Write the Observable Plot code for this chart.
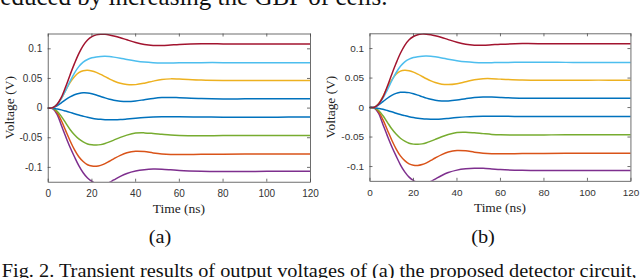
<!DOCTYPE html>
<html><head><meta charset="utf-8">
<script src="https://cdn.jsdelivr.net/npm/d3@7"></script>
<script src="https://cdn.jsdelivr.net/npm/@observablehq/plot@0.6"></script>
<style>
body{margin:0;background:#fff}
#root{position:relative;width:640px;height:278px;overflow:hidden;background:#fff}
.panel{position:absolute;top:0}
svg.overlay{position:absolute;left:0;top:0}
</style>
</head><body><div id="root"></div>
<script>
// ---- data ----
const times = [0,2,4,6,8,10,12,14,16,18,20,22,24,26,28,30,33,36,40,44,48,52,56,60,70,80,90,100,110,120];
const xTicks = [0,20,40,60,80,100,120];
const yTicks = [-0.1,-0.05,0,0.05,0.1];
const yTickLabels = ["-0.1","-0.05","0","0.05","0.1"];

const redA    = [0,0.0005,0.006,0.018,0.036,0.056,0.075,0.092,0.1055,0.1150,0.1205,0.1235,0.1245,0.1244,0.1234,0.1218,0.1188,0.1152,0.1107,0.1073,0.1057,0.1056,0.1064,0.1073,0.1084,0.1083,0.1080,0.1080,0.1080,0.1080];
const cyanA   = [0,0.0005,0.006,0.016,0.030,0.045,0.059,0.070,0.0775,0.0820,0.0848,0.0863,0.0871,0.0873,0.0869,0.0860,0.0842,0.0820,0.0795,0.0776,0.0765,0.0760,0.0761,0.0764,0.0767,0.0767,0.0766,0.0765,0.0765,0.0765];
const yellowA = [0,0.0005,0.006,0.016,0.030,0.043,0.053,0.0597,0.0630,0.0637,0.0626,0.0602,0.0568,0.0530,0.0492,0.0458,0.0418,0.0397,0.0396,0.0420,0.0455,0.0483,0.0493,0.0489,0.0472,0.0465,0.0465,0.0466,0.0466,0.0466];
const blueUpA = [0,0.0004,0.004,0.009,0.0145,0.019,0.0225,0.0248,0.0258,0.0256,0.0243,0.0222,0.0197,0.0172,0.0150,0.0132,0.0117,0.0112,0.0121,0.0142,0.0163,0.0177,0.0180,0.0175,0.0161,0.0155,0.0156,0.0157,0.0157,0.0157];
const blueLoA = [0,-0.0002,-0.0015,-0.003,-0.005,-0.0072,-0.0096,-0.0118,-0.0137,-0.0155,-0.0170,-0.0182,-0.0190,-0.0195,-0.0197,-0.0197,-0.0193,-0.0184,-0.0170,-0.0158,-0.0150,-0.0146,-0.0146,-0.0148,-0.0151,-0.0153,-0.0153,-0.0153,-0.0152,-0.0152];
const greenA  = [0,-0.0005,-0.005,-0.014,-0.025,-0.036,-0.045,-0.052,-0.057,-0.0605,-0.0620,-0.0624,-0.0616,-0.0597,-0.0570,-0.0540,-0.0494,-0.0456,-0.0422,-0.0418,-0.0428,-0.0442,-0.0455,-0.0462,-0.0466,-0.0464,-0.0462,-0.0462,-0.0462,-0.0462];
const orangeA = [0,-0.0005,-0.007,-0.021,-0.038,-0.055,-0.070,-0.082,-0.090,-0.0955,-0.0978,-0.0982,-0.0966,-0.0937,-0.0897,-0.0855,-0.0797,-0.0754,-0.0728,-0.0734,-0.0756,-0.0773,-0.0782,-0.0784,-0.0780,-0.0777,-0.0776,-0.0776,-0.0776,-0.0776];
const purpleA = [0,-0.001,-0.010,-0.029,-0.048,-0.066,-0.082,-0.097,-0.109,-0.118,-0.1238,-0.1275,-0.1290,-0.1283,-0.1252,-0.1212,-0.1152,-0.1102,-0.1061,-0.1039,-0.1029,-0.1031,-0.1040,-0.1051,-0.1064,-0.1068,-0.1068,-0.1067,-0.1067,-0.1067];

const yellowB = [0,0.0005,0.007,0.019,0.034,0.047,0.0565,0.0617,0.0632,0.0624,0.0600,0.0566,0.0527,0.0488,0.0453,0.0424,0.0396,0.0389,0.0404,0.0438,0.0472,0.0489,0.0490,0.0482,0.0467,0.0463,0.0464,0.0465,0.0465,0.0465];
const blueUpB = [0,0.0005,0.0045,0.010,0.0158,0.0205,0.0240,0.0258,0.0261,0.0253,0.0235,0.0211,0.0185,0.0160,0.0140,0.0125,0.0113,0.0113,0.0127,0.0150,0.0169,0.0179,0.0179,0.0172,0.0159,0.0156,0.0157,0.0158,0.0158,0.0158];

const seriesKeys   = ["purple","orange","green","blueLo","blueUp","yellow","cyan","red"];
const seriesColors = ["#7E2F8E","#D95319","#77AC30","#0072BD","#0072BD","#EDB120","#4DBEEE","#A2142F"];
const panelA = [purpleA, orangeA, greenA, blueLoA, blueUpA, yellowA, cyanA, redA];
const panelB = [purpleA, orangeA, greenA, blueLoA, blueUpB, yellowB, cyanA, redA];

const texts = {
  top: "reduced by increasing the GBP of cells.",
  caption: "Fig. 2.  Transient results of output voltages of (a) the proposed detector circuit,",
  xLabel: "Time (ns)",
  yLabel: "Voltage (V)",
  subA: "(a)",
  subB: "(b)"
};

// ---- layout ----
const W = 320, H = 220, mL = 47.7, mR = 10, mT = 33.5, mB = 38.3;
const fw = W - mL - mR, fh = H - mT - mB;
const serif = "'Liberation Serif','Times New Roman',serif";
const sans = "'Liberation Sans',Arial,sans-serif";
const axisColor = "#4a4a4a";

function panel(vals) {
  const data = vals.flatMap((arr, si) => times.map((t, i) => ({t, v: arr[i], k: seriesKeys[si] + si})));
  const svg = Plot.plot({
    width: W, height: H, marginLeft: mL, marginRight: mR, marginTop: mT, marginBottom: mB,
    style: {fontFamily: sans, fontSize: "10px", color: "#333", background: "transparent", overflow: "visible"},
    x: {domain: [0, 120]},
    y: {domain: [-0.125, 0.125]},
    color: {domain: seriesKeys.map((k, i) => k + i), range: seriesColors},
    marks: [
      Plot.lineY(data, {x: "t", y: "v", z: "k", stroke: "k", strokeWidth: 1.5, curve: "catmull-rom", clip: true}),
      Plot.frame({stroke: axisColor, strokeWidth: 0.8}),
      Plot.tickX(xTicks, {x: d => d, insetTop: fh - 3, stroke: axisColor, strokeWidth: 0.8}),
      Plot.tickX(xTicks, {x: d => d, insetBottom: fh - 3, stroke: axisColor, strokeWidth: 0.8}),
      Plot.tickY(yTicks, {y: d => d, insetRight: fw - 3, stroke: axisColor, strokeWidth: 0.8}),
      Plot.tickY(yTicks, {y: d => d, insetLeft: fw - 3, stroke: axisColor, strokeWidth: 0.8}),
      Plot.axisX(xTicks, {tickSize: 0, tickPadding: 8, tickFormat: d => String(d), label: null}),
      Plot.axisY(yTicks, {tickSize: 0, tickPadding: 6, tickFormat: d => yTickLabels[yTicks.indexOf(d)], label: null})
    ]
  });
  const s = d3.select(svg);
  s.append("text").attr("x", mL + fw / 2).attr("y", 213).attr("text-anchor", "middle")
    .attr("font-family", serif).attr("font-size", 13.5).attr("fill", "#222").text(texts.xLabel);
  s.append("text").attr("transform", `translate(13.5,${mT + fh / 2}) rotate(-90)`).attr("text-anchor", "middle")
    .attr("font-family", serif).attr("font-size", 13.5).attr("fill", "#222").text(texts.yLabel);
  return svg;
}

const root = document.getElementById("root");
[[panelA, 0], [panelB, 321.6]].forEach(([vals, left]) => {
  const d = document.createElement("div");
  d.className = "panel";
  d.style.left = left + "px";
  d.appendChild(panel(vals));
  root.appendChild(d);
});

const ov = d3.select(root).append("svg").attr("class", "overlay").attr("width", 640).attr("height", 278);
function stretched(txt, x, y, size, anchor) {
  ov.append("text").attr("transform", `translate(${x},${y}) scale(1.13,1)`)
    .attr("text-anchor", anchor).attr("font-family", serif).attr("font-size", size).attr("fill", "#111").text(txt);
}
ov.append("text").attr("x", -8).attr("y", 5).attr("font-family", serif).attr("font-size", 25).attr("fill", "#111").text(texts.top);
stretched(texts.subA, 160, 243, 18, "middle");
stretched(texts.subB, 483, 243, 18, "middle");
stretched(texts.caption, 1.7, 277, 18, "start");
</script></body></html>
